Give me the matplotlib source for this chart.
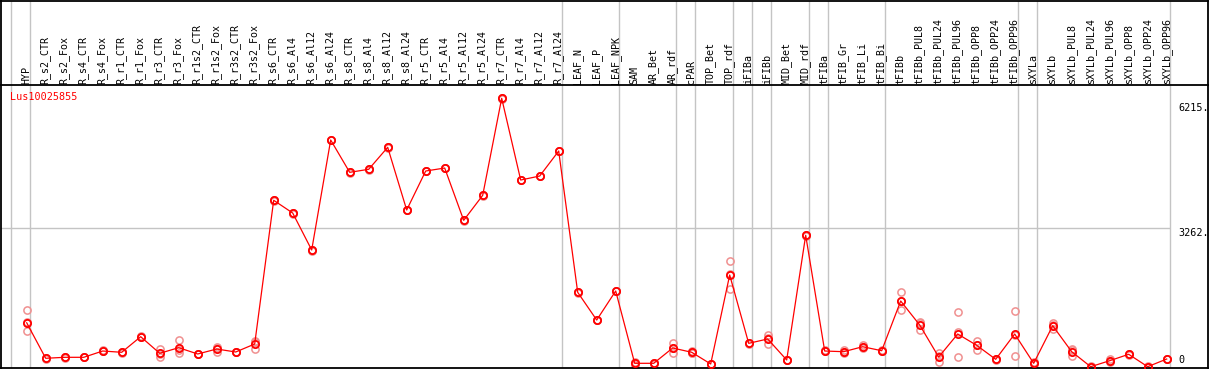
import numpy as np
import matplotlib.pyplot as plt

gene = 'Lus10025855'

samples = [
    'HYP', 'R_s2_CTR', 'R_s2_Fox', 'R_s4_CTR', 'R_s4_Fox', 'R_r1_CTR', 'R_r1_Fox',
    'R_r3_CTR', 'R_r3_Fox', 'R_r1s2_CTR', 'R_r1s2_Fox', 'R_r3s2_CTR', 'R_r3s2_Fox',
    'R_s6_CTR', 'R_s6_Al4', 'R_s6_Al12', 'R_s6_Al24', 'R_s8_CTR', 'R_s8_Al4',
    'R_s8_Al12', 'R_s8_Al24', 'R_r5_CTR', 'R_r5_Al4', 'R_r5_Al12', 'R_r5_Al24',
    'R_r7_CTR', 'R_r7_Al4', 'R_r7_Al12', 'R_r7_Al24', 'LEAF_N', 'LEAF_P', 'LEAF_NPK',
    'SAM', 'AR_Bet', 'AR_rdf', 'cPAR', 'TOP_Bet', 'TOP_rdf', 'iFIBa', 'iFIBb',
    'MID_Bet', 'MID_rdf', 'tFIBa', 'tFIB_Gr', 'tFIB_Li', 'tFIB_Bi', 'tFIBb',
    'tFIBb_PUL8', 'tFIBb_PUL24', 'tFIBb_PUL96', 'tFIBb_OPP8', 'tFIBb_OPP24',
    'tFIBb_OPP96', 'sXYLa', 'sXYLb', 'sXYLb_PUL8', 'sXYLb_PUL24', 'sXYLb_PUL96',
    'sXYLb_OPP8', 'sXYLb_OPP24', 'sXYLb_OPP96',
]

means = [
    1040, 205, 228, 228, 376, 346, 713, 322, 454, 306, 423, 353, 541,
    3921, 3622, 2752, 5339, 4579, 4650, 5167, 3693, 4610, 4680, 3450, 4038,
    6320, 4398, 4492, 5080, 1757, 1105, 1788,
    87, 87, 447, 346, 71, 2164, 557, 659, 165, 3098,
    376, 360, 477, 383, 1552, 988, 235, 776, 510, 181, 776,
    87, 971, 360, 7, 148, 299, 7, 188,
]

reps = [
    [1341, 1065, 847], [190, 215, 210], [215, 240, 228], [228, 225, 230],
    [365, 390, 372], [346, 340, 352], [700, 725, 713], [423, 228, 316],
    [635, 322, 405], [300, 310, 308], [477, 346, 446], [353, 350, 356],
    [619, 423, 580], [3900, 3935, 3928], [3610, 3630, 3626], [2740, 2760, 2756],
    [5330, 5345, 5342], [4570, 4585, 4582], [4640, 4660, 4650], [5160, 5175, 5166],
    [3685, 3700, 3694], [4600, 4620, 4610], [4670, 4690, 4680], [3440, 3460, 3450],
    [4030, 4045, 4039], [6310, 6330, 6320], [4390, 4405, 4399], [4485, 4500, 4491],
    [5070, 5090, 5080], [1750, 1765, 1756], [1098, 1112, 1105], [1780, 1795, 1789],
    [40, 120, 100], [80, 95, 86], [571, 322, 447], [320, 380, 338],
    [60, 80, 73], [2486, 1827, 2180], [545, 570, 556], [753, 541, 683],
    [155, 175, 165], [3090, 3105, 3099], [365, 390, 373], [330, 390, 360],
    [520, 440, 471], [375, 390, 384], [1757, 1341, 1558], [1051, 870, 1043],
    [336, 110, 259], [1287, 228, 813], [612, 400, 518], [170, 190, 183],
    [1317, 252, 759], [60, 110, 91], [1042, 894, 977], [400, 259, 421],
    [0, 15, 6], [188, 110, 146], [290, 310, 297], [0, 15, 6], [180, 195, 189],
]

group_edges = [0, 1, 29, 32, 35, 36, 38, 39, 40, 42, 43, 46, 53, 54, 61]
y_ticks = [0, 3262, 6215]

W, H = 1209, 370
fig = plt.figure(figsize=(W / 100, H / 100), dpi=100)

# pixel layout: columns 19 px wide starting at x=11, header ends at y=85
x_lo, x_hi = (0.5 - 11) / 19, (1208 - 11) / 19
ax_head = fig.add_axes([0.5 / W, (H - 85) / H, 1207.5 / W, 84.5 / H])
ax = fig.add_axes([0.5 / W, (H - 368) / H, 1207.5 / W, (368 - 85) / H])

grey = '#c4c4c4'
for a in (ax_head, ax):
    a.set_xlim(x_lo, x_hi)
    a.set_xticks([])
    a.set_yticks([])
    for s in a.spines.values():
        s.set_linewidth(1.3)
        s.set_color('black')
    for e in group_edges:
        a.axvline(e, color=grey, lw=1.0, zorder=0)

ax_head.set_ylim(0, 85)
ax_head.spines['bottom'].set_visible(False)
for i, name in enumerate(samples):
    ax_head.text(i + 0.8, 1.5, name, rotation=90, ha='center', va='bottom',
                 fontsize=7.2, family='DejaVu Sans Mono')

ax.set_ylim(-23.5, 6633)
xs = np.arange(len(samples)) + 0.826
ax.hlines(y_ticks[1], x_lo, group_edges[-1], color=grey, lw=1.0, zorder=0)

for i, r in enumerate(reps):
    ax.plot([xs[i]] * len(r), r, 'o', ms=5.2, mfc='none', mec='#f09090',
            mew=1.1, zorder=2)
ax.plot(xs, means, '-', color='red', lw=0.9, zorder=3)
ax.plot(xs, means, 'o', ms=5.2, mfc='none', mec='red', mew=1.3, zorder=4)

ax.text(x_lo + 9.5 / 19, 6633 - 12 * 23.52, gene, color='red', fontsize=7.3,
        family='DejaVu Sans Mono', va='center', ha='left')

tx = (1178 - 11) / 19
ax.text(tx, y_ticks[2], f'{y_ticks[2]}.', fontsize=7.3, family='DejaVu Sans Mono',
        va='top', ha='left', clip_on=True)
ax.text(tx, y_ticks[1], f'{y_ticks[1]}.', fontsize=7.3, family='DejaVu Sans Mono',
        va='top', ha='left', clip_on=True)
ax.text(tx, y_ticks[0] + 40, f'{y_ticks[0]}', fontsize=7.3, family='DejaVu Sans Mono',
        va='bottom', ha='left')

fig.savefig('out.png', dpi=100)
